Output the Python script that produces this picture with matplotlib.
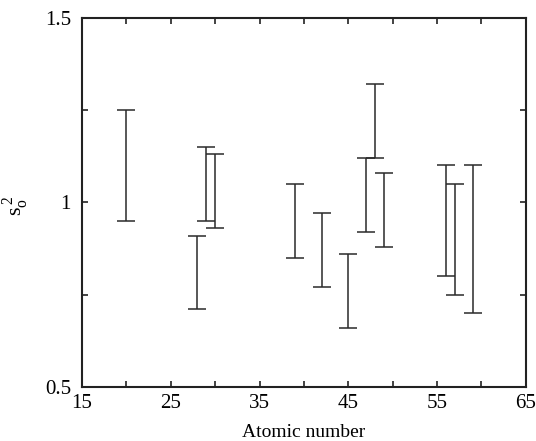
import numpy as np
import matplotlib
matplotlib.use('Agg')
import matplotlib.pyplot as plt
from matplotlib.ticker import MultipleLocator, FixedLocator, FuncFormatter

plt.rcParams['font.family'] = ['Liberation Serif', 'DejaVu Serif']
plt.rcParams['mathtext.fontset'] = 'custom'
plt.rcParams['mathtext.rm'] = 'Liberation Serif'

# atomic number and lower / upper bounds of s_o^2
atomic_number = [20, 28, 29, 30, 39, 42, 45, 47, 48, 49, 56, 57, 59]
s2_low = [0.95, 0.71, 0.95, 0.93, 0.85, 0.77, 0.66, 0.92, 1.12, 0.88, 0.80, 0.75, 0.70]
s2_high = [1.25, 0.91, 1.15, 1.13, 1.05, 0.97, 0.86, 1.12, 1.32, 1.08, 1.10, 1.05, 1.10]
x_ticks = [15, 25, 35, 45, 55, 65]

lo = np.array(s2_low)
hi = np.array(s2_high)
mid = (lo + hi) / 2
err = (hi - lo) / 2

fig = plt.figure(figsize=(5.36, 4.41), dpi=100)
ax = fig.add_axes([0.153, 0.1224, 0.828, 0.8374])

ax.errorbar(atomic_number, mid, yerr=err, fmt='none', ecolor='#2a2a2a',
            elinewidth=1.1, capsize=6.4, capthick=1.1)

ax.set_xlim(15, 65)
ax.set_ylim(0.5, 1.5)
ax.xaxis.set_major_locator(FixedLocator(x_ticks))
ax.xaxis.set_minor_locator(MultipleLocator(5))
ax.yaxis.set_major_locator(MultipleLocator(0.5))
ax.yaxis.set_minor_locator(MultipleLocator(0.25))
ax.yaxis.set_major_formatter(FuncFormatter(lambda v, p: '%g' % v))

ax.tick_params(which='both', direction='in', top=True, right=True,
               length=4, width=1.2, labelsize=15, color='#222222')
ax.tick_params(axis='x', pad=5)
ax.tick_params(axis='y', pad=8)
for s in ax.spines.values():
    s.set_linewidth(1.5)
    s.set_color('#222222')

ax.set_xlabel('Atomic number', fontsize=14, labelpad=8)
ax.set_ylabel(r'$\mathrm{s}_\mathrm{o}^{\,2}$', fontsize=16, labelpad=6)
ax.yaxis.set_label_coords(-0.115, 0.49)

fig.savefig('out.png', dpi=100)
